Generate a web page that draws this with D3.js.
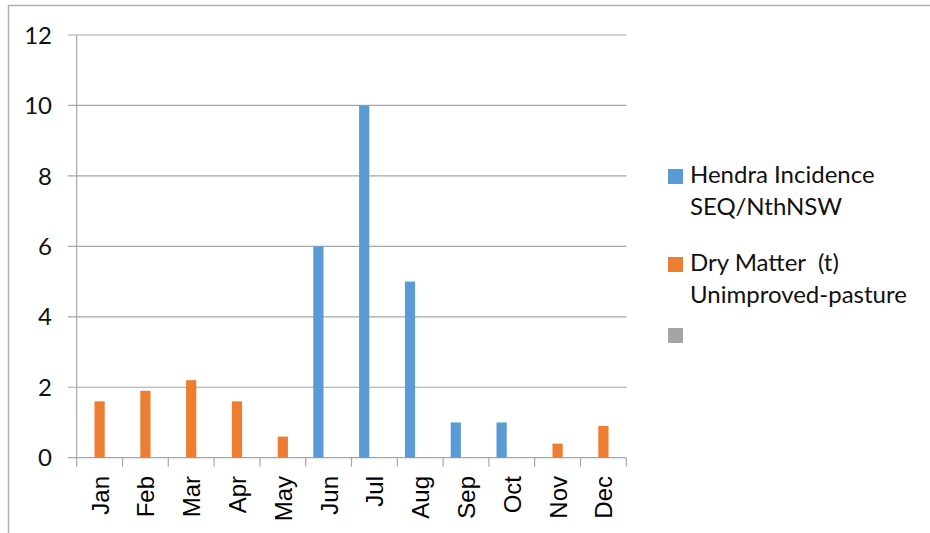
<!DOCTYPE html>
<html>
<head>
<meta charset="utf-8">
<script src="https://cdn.jsdelivr.net/npm/d3@7"></script>
<style>
  body { margin: 0; background: #fff; }
  svg { display: block; }
</style>
</head>
<body>
<svg width="930" height="533"></svg>
<script>
var months = ['Jan', 'Feb', 'Mar', 'Apr', 'May', 'Jun', 'Jul', 'Aug', 'Sep', 'Oct', 'Nov', 'Dec'];
var seriesNames = ['Hendra Incidence SEQ/NthNSW', 'Dry Matter  (t) Unimproved-pasture', ''];
var hendra = [null, null, null, null, null, 6, 10, 5, 1, 1, null, null];
var dryMatter = [1.6, 1.9, 2.2, 1.6, 0.6, null, null, null, null, null, 0.4, 0.9];
var third = [null, null, null, null, null, null, null, null, null, null, null, null];
var yTicks = [0, 2, 4, 6, 8, 10, 12];
var legendLines = [['Hendra Incidence', 'SEQ/NthNSW'], ['Dry Matter  (t)', 'Unimproved-pasture'], ['']];
var colors = ['#5b9bd5', '#ed7d31', '#a5a5a5'];

var svg = d3.select('svg');

// outer frame
svg.append('path')
  .attr('d', 'M8.5,533 L8.5,5.5 L930,5.5')
  .attr('fill', 'none')
  .attr('stroke', '#b0b0b0')
  .attr('stroke-width', 1.5);

var plotLeft = 76.7, plotRight = 626.3, plotTop = 35, plotBottom = 457.7;

var x = d3.scaleBand()
  .domain(months)
  .range([plotLeft, plotRight]);

var x1 = d3.scaleBand()
  .domain([0, 1, 2])
  .range([0, x.bandwidth()])
  .paddingOuter(0.745);

var y = d3.scaleLinear()
  .domain([0, 12])
  .range([plotBottom, plotTop]);

// grid
svg.selectAll('.grid')
  .data(yTicks)
  .enter()
  .append('line')
  .attr('x1', plotLeft - 9)
  .attr('x2', plotRight)
  .attr('y1', function(d) { return y(d); })
  .attr('y2', function(d) { return y(d); })
  .attr('stroke', '#a6a6a6')
  .attr('stroke-width', 1.2);

// y axis line
svg.append('line')
  .attr('x1', plotLeft).attr('x2', plotLeft)
  .attr('y1', plotTop).attr('y2', plotBottom)
  .attr('stroke', '#a6a6a6')
  .attr('stroke-width', 1.2);

svg.selectAll('.ylab')
  .data(yTicks)
  .enter()
  .append('text')
  .attr('x', 52)
  .attr('y', function(d) { return y(d); })
  .attr('dy', '0.36em')
  .attr('text-anchor', 'end')
  .attr('font-family', 'Lato, "Open Sans", sans-serif')
  .attr('font-size', 24)
  .attr('fill', '#111')
  .text(function(d) { return d; });

// x ticks
svg.selectAll('.xtick')
  .data(months.concat(['end']))
  .enter()
  .append('line')
  .attr('x1', function(d, i) { return plotLeft + i * x.step(); })
  .attr('x2', function(d, i) { return plotLeft + i * x.step(); })
  .attr('y1', plotBottom)
  .attr('y2', plotBottom + 9)
  .attr('stroke', '#a6a6a6')
  .attr('stroke-width', 1.2);

svg.selectAll('.xlab')
  .data(months)
  .enter()
  .append('text')
  .attr('transform', function(d) {
    return 'translate(' + (x(d) + x.bandwidth() / 2 + 9) + ',' + 476 + ') rotate(-90)';
  })
  .attr('text-anchor', 'end')
  .attr('font-family', '"Liberation Sans", Arial, sans-serif')
  .attr('font-size', 24)
  .attr('fill', '#000')
  .text(function(d) { return d; });

// bars
var allSeries = [hendra, dryMatter, third];
allSeries.forEach(function(vals, s) {
  svg.selectAll('.bar' + s)
    .data(months.map(function(m, i) { return { month: m, value: vals[i] }; })
      .filter(function(d) { return d.value != null; }))
    .enter()
    .append('rect')
    .attr('x', function(d) { return x(d.month) + x1(s); })
    .attr('width', x1.bandwidth())
    .attr('y', function(d) { return y(d.value); })
    .attr('height', function(d) { return y(0) - y(d.value); })
    .attr('fill', colors[s]);
});

// legend
var legendY = [169, 257, 328];
var lg = svg.selectAll('.legend')
  .data(seriesNames)
  .enter()
  .append('g')
  .attr('transform', function(d, i) { return 'translate(668,' + legendY[i] + ')'; });

lg.append('rect')
  .attr('width', 15)
  .attr('height', 15)
  .attr('fill', function(d, i) { return colors[i]; });

lg.each(function(d, i) {
  d3.select(this).selectAll('text')
    .data(legendLines[i])
    .enter()
    .append('text')
    .attr('x', 22)
    .attr('y', function(t, j) { return 14 + j * 32; })
    .attr('font-family', 'Lato, "Open Sans", sans-serif')
    .attr('font-size', 24)
    .attr('fill', '#111')
    .attr('xml:space', 'preserve')
    .text(function(t) { return t; });
});
</script>
</body>
</html>
